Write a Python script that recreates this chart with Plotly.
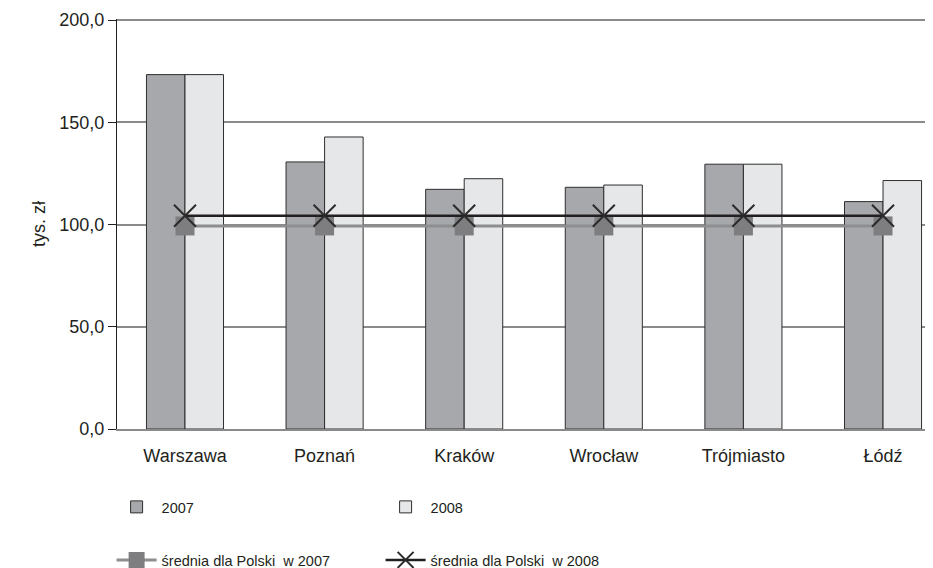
import plotly.graph_objects as go

cities = ["Warszawa", "Poznań", "Kraków", "Wrocław", "Trójmiasto", "Łódź"]
val_2007 = [173.3, 130.6, 117.2, 118.2, 129.5, 111.2]
val_2008 = [173.3, 142.8, 122.4, 119.3, 129.5, 121.5]
avg_pl_2007 = [99.3, 99.3, 99.3, 99.3, 99.3, 99.3]
avg_pl_2008 = [104.3, 104.3, 104.3, 104.3, 104.3, 104.3]
y_ticks = [0, 50, 100, 150, 200]

FONT = "Liberation Sans, Arial, sans-serif"
TXT = "#231f20"

fig = go.Figure()
fig.add_trace(go.Bar(
    x=cities, y=val_2007, name="2007",
    marker=dict(color="#a7a8ab", line=dict(color="#2e2e2e", width=1)),
    legend="legend",
))
fig.add_trace(go.Bar(
    x=cities, y=val_2008, name="2008",
    marker=dict(color="#e6e7e9", line=dict(color="#2e2e2e", width=1)),
    legend="legend",
))
fig.add_trace(go.Scatter(
    x=cities, y=avg_pl_2007, name="średnia dla Polski  w 2007",
    mode="lines+markers",
    line=dict(color="#8e8e90", width=3),
    marker=dict(symbol="square", size=19, color="#7e7e80"),
    legend="legend2",
))
fig.add_trace(go.Scatter(
    x=cities, y=avg_pl_2008, name="średnia dla Polski  w 2008",
    mode="lines+markers",
    line=dict(color="#231f20", width=2.5),
    marker=dict(symbol="x-thin", size=22, line=dict(color="#2b2b2b", width=2)),
    legend="legend2",
))

legend_common = dict(
    orientation="h", xref="container", yref="container",
    xanchor="left", yanchor="middle",
    font=dict(family=FONT, size=14.5, color=TXT),
    entrywidth=214, entrywidthmode="pixels", itemwidth=40,
    bgcolor="rgba(0,0,0,0)", tracegroupgap=0,
)

# the page body adds an 8 px offset, so the figure is 8 px smaller than the window
fig.update_layout(
    width=925, height=560,
    margin=dict(l=109, r=0, t=11, b=139, autoexpand=False),
    paper_bgcolor="white", plot_bgcolor="white",
    font=dict(family=FONT, size=18, color=TXT),
    separators=", ",
    barmode="group", bargap=0.448, bargroupgap=0,
    showlegend=True,
    legend=dict(x=0.112, y=0.109, **legend_common),
    legend2=dict(x=0.112, y=0.0143, **legend_common),
    xaxis=dict(
        range=[-0.487, 5.358], showgrid=False, automargin=False,
        showline=True, linecolor="#8a8a8a", linewidth=1.5,
        ticks="", ticklabelstandoff=10,
        tickfont=dict(family=FONT, size=18, color=TXT),
    ),
    yaxis=dict(
        range=[0, 200.5], tickvals=y_ticks, tickformat=".1f", automargin=False,
        showgrid=True, gridcolor="#8a8a8a", gridwidth=1.5,
        showline=True, linecolor="#231f20", linewidth=1.2,
        ticks="outside", ticklen=8, tickcolor="#231f20", tickwidth=1,
        zeroline=False,
        tickfont=dict(family=FONT, size=18, color=TXT),
        title=dict(text="tys. zł", standoff=8, font=dict(family=FONT, size=18, color=TXT)),
    ),
)

fig.write_html("out.html")
